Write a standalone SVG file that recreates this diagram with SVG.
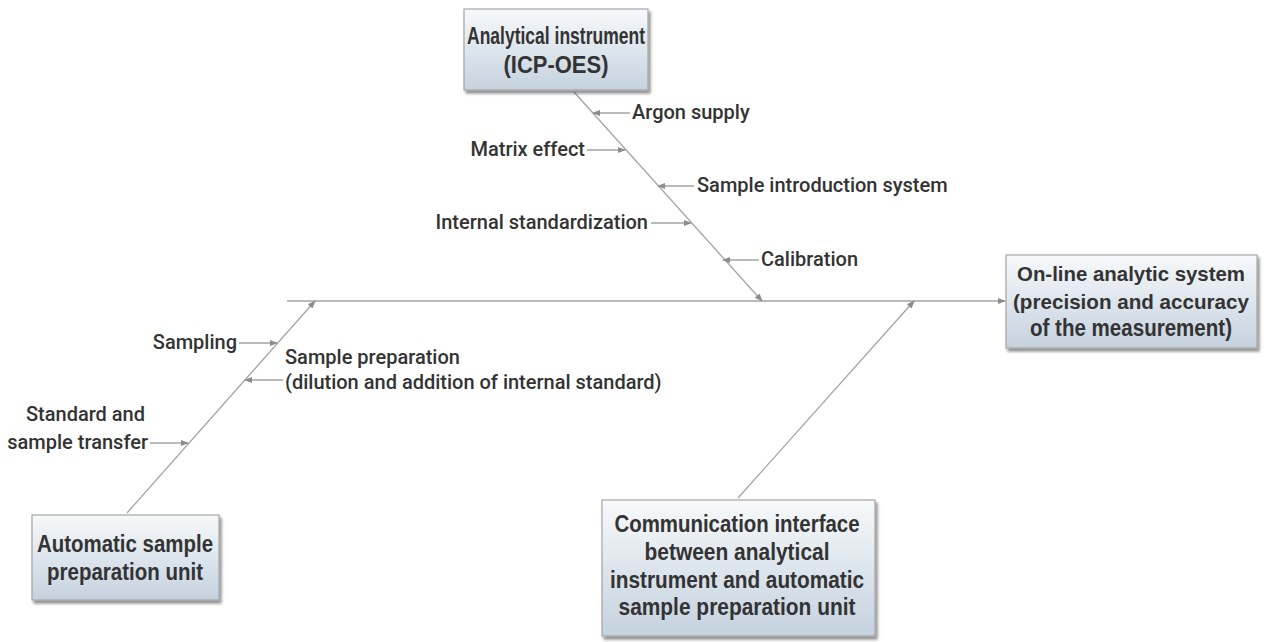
<svg xmlns="http://www.w3.org/2000/svg" width="1268" height="642" viewBox="0 0 1268 642">
  <defs>
    <linearGradient id="boxFill" x1="0" y1="0" x2="0" y2="1">
      <stop offset="0" stop-color="#f7f9fb"/>
      <stop offset="1" stop-color="#c4d2de"/>
    </linearGradient>
    <filter id="shadow" x="-10%" y="-10%" width="120%" height="130%">
      <feGaussianBlur in="SourceAlpha" stdDeviation="1.5"/>
      <feOffset dx="2" dy="3" result="b"/>
      <feComponentTransfer><feFuncA type="linear" slope="0.45"/></feComponentTransfer>
      <feMerge><feMergeNode/><feMergeNode in="SourceGraphic"/></feMerge>
    </filter>
    <marker id="arrow" viewBox="0 0 10 10" refX="9" refY="5" markerWidth="8" markerHeight="8" markerUnits="userSpaceOnUse" orient="auto">
      <path d="M0,1 L10,5 L0,9 z" fill="#8c8c8c"/>
    </marker>
  </defs>
  <style>
    .box { fill: url(#boxFill); stroke: #a6a6a6; stroke-width: 1.2; filter: url(#shadow); }
    .title { font-family: "Liberation Sans", Arial, sans-serif; font-weight: bold; font-size: 23px; fill: #333333; text-anchor: middle; }
    .tight { font-size: 21px; }
    .label { font-family: Roboto, "Liberation Sans", sans-serif; font-weight: 500; font-size: 20px; fill: #333333; }
    .line { stroke: #a3a3a3; stroke-width: 1.3; fill: none; }
    .arr { marker-end: url(#arrow); }
  </style>
  <rect width="1268" height="642" fill="#ffffff"/>

  <!-- connectors: spine, main bones and cause arrows -->
  <g id="connectors">
    <line class="line arr" x1="287" y1="301" x2="1005" y2="301"/>
    <line class="line arr" x1="574" y1="92" x2="762" y2="301"/>
    <line class="line arr" x1="127" y1="513" x2="315" y2="301"/>
    <line class="line arr" x1="738" y1="498" x2="914" y2="301"/>

    <line class="line arr" x1="630" y1="113" x2="593" y2="113"/>
    <line class="line arr" x1="587" y1="150" x2="625" y2="150"/>
    <line class="line arr" x1="694" y1="186" x2="658" y2="186"/>
    <line class="line arr" x1="651" y1="223" x2="691" y2="223"/>
    <line class="line arr" x1="759" y1="260" x2="723" y2="260"/>

    <line class="line arr" x1="239" y1="343" x2="277" y2="343"/>
    <line class="line arr" x1="283" y1="380" x2="245" y2="380"/>
    <line class="line arr" x1="150" y1="443" x2="188" y2="443"/>
  </g>

  <!-- cause labels -->
  <g id="labels" class="label">
    <text x="632" y="119">Argon supply</text>
    <text x="585" y="156" text-anchor="end">Matrix effect</text>
    <text x="697" y="192">Sample introduction system</text>
    <text x="648" y="229" text-anchor="end">Internal standardization</text>
    <text x="761" y="266">Calibration</text>
    <text x="237" y="349" text-anchor="end">Sampling</text>
    <text x="285" y="364">Sample preparation</text>
    <text x="285" y="389">(dilution and addition of internal standard)</text>
    <text x="145" y="421" text-anchor="end">Standard and</text>
    <text x="148" y="449" text-anchor="end">sample transfer</text>
  </g>

  <g id="instrument">
    <rect class="box" x="464" y="9" width="184" height="81"/>
    <text class="title" x="556" y="44" textLength="178" lengthAdjust="spacingAndGlyphs">Analytical instrument</text>
    <text class="title" x="556" y="73" textLength="105" lengthAdjust="spacingAndGlyphs">(ICP-OES)</text>
  </g>

  <g id="online-system">
    <rect class="box" x="1006" y="255" width="251" height="93"/>
    <text class="title tight" x="1131" y="281" textLength="228" lengthAdjust="spacingAndGlyphs">On-line analytic system</text>
    <text class="title tight" x="1131" y="309" textLength="236" lengthAdjust="spacingAndGlyphs">(precision and accuracy</text>
    <text class="title" x="1131" y="336" textLength="202" lengthAdjust="spacingAndGlyphs">of the measurement)</text>
  </g>

  <g id="sample-unit">
    <rect class="box" x="32" y="515" width="187" height="85"/>
    <text class="title" x="125" y="552" textLength="176" lengthAdjust="spacingAndGlyphs">Automatic sample</text>
    <text class="title" x="125" y="580" textLength="156" lengthAdjust="spacingAndGlyphs">preparation unit</text>
  </g>

  <g id="interface">
    <rect class="box" x="602" y="500" width="273" height="136"/>
    <text class="title" x="737" y="532" textLength="245" lengthAdjust="spacingAndGlyphs">Communication interface</text>
    <text class="title" x="737" y="560" textLength="185" lengthAdjust="spacingAndGlyphs">between analytical</text>
    <text class="title" x="737" y="588" textLength="254" lengthAdjust="spacingAndGlyphs">instrument and automatic</text>
    <text class="title" x="737" y="615" textLength="237" lengthAdjust="spacingAndGlyphs">sample preparation unit</text>
  </g>
</svg>
